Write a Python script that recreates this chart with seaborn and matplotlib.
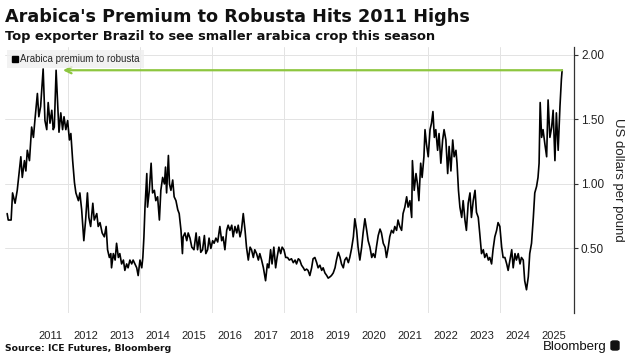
import pandas as pd
import seaborn as sns
import matplotlib.pyplot as plt
from matplotlib.lines import Line2D
from matplotlib.patches import FancyBboxPatch

# decimal year, arabica premium over robusta (US$/lb)
years = [
    2010.31, 2010.34, 2010.42, 2010.46, 2010.53, 2010.59, 2010.69, 2010.73, 2010.79, 2010.83,
    2010.87, 2010.93, 2010.99, 2011.04, 2011.08, 2011.15, 2011.19, 2011.24, 2011.31, 2011.36,
    2011.41, 2011.45, 2011.50, 2011.55, 2011.59, 2011.62, 2011.67, 2011.70, 2011.75, 2011.80,
    2011.85, 2011.89, 2011.94, 2011.99, 2012.04, 2012.08, 2012.13, 2012.18, 2012.22, 2012.29,
    2012.33, 2012.38, 2012.44, 2012.49, 2012.54, 2012.58, 2012.63, 2012.69, 2012.73, 2012.80,
    2012.84, 2012.89, 2012.95, 2013.01, 2013.06, 2013.10, 2013.15, 2013.19, 2013.21, 2013.26,
    2013.31, 2013.35, 2013.40, 2013.44, 2013.49, 2013.54, 2013.58, 2013.63, 2013.67, 2013.72,
    2013.77, 2013.81, 2013.86, 2013.91, 2013.95, 2014.00, 2014.05, 2014.08, 2014.11, 2014.14,
    2014.19, 2014.21, 2014.26, 2014.31, 2014.35, 2014.40, 2014.44, 2014.49, 2014.54, 2014.58,
    2014.63, 2014.68, 2014.71, 2014.74, 2014.79, 2014.82, 2014.86, 2014.91, 2014.95, 2015.00,
    2015.05, 2015.09, 2015.14, 2015.18, 2015.20, 2015.25, 2015.30, 2015.34, 2015.39, 2015.44,
    2015.50, 2015.56, 2015.60, 2015.65, 2015.69, 2015.74, 2015.79, 2015.83, 2015.88, 2015.92,
    2015.97, 2016.02, 2016.06, 2016.11, 2016.16, 2016.22, 2016.27, 2016.31, 2016.36, 2016.41,
    2016.45, 2016.50, 2016.55, 2016.59, 2016.64, 2016.69, 2016.73, 2016.78, 2016.82, 2016.87,
    2016.92, 2016.96, 2017.01, 2017.06, 2017.10, 2017.15, 2017.19, 2017.24, 2017.29, 2017.33,
    2017.38, 2017.43, 2017.49, 2017.54, 2017.58, 2017.63, 2017.67, 2017.72, 2017.77, 2017.81,
    2017.86, 2017.91, 2017.95, 2018.00, 2018.05, 2018.10, 2018.15, 2018.21, 2018.26, 2018.31,
    2018.35, 2018.40, 2018.44, 2018.49, 2018.54, 2018.58, 2018.63, 2018.67, 2018.72, 2018.77,
    2018.81, 2018.86, 2018.91, 2018.95, 2019.00, 2019.05, 2019.09, 2019.14, 2019.19, 2019.23,
    2019.28, 2019.32, 2019.37, 2019.42, 2019.46, 2019.51, 2019.56, 2019.60, 2019.65, 2019.69,
    2019.74, 2019.79, 2019.83, 2019.88, 2019.93, 2019.97, 2020.02, 2020.06, 2020.11, 2020.16,
    2020.20, 2020.25, 2020.30, 2020.34, 2020.39, 2020.44, 2020.48, 2020.53, 2020.57, 2020.62,
    2020.67, 2020.71, 2020.76, 2020.81, 2020.85, 2020.90, 2020.94, 2020.99, 2021.04, 2021.08,
    2021.13, 2021.17, 2021.22, 2021.27, 2021.31, 2021.36, 2021.41, 2021.45, 2021.50, 2021.55,
    2021.57, 2021.62, 2021.67, 2021.71, 2021.75, 2021.80, 2021.84, 2021.89, 2021.92, 2021.96,
    2022.01, 2022.06, 2022.10, 2022.14, 2022.18, 2022.22, 2022.27, 2022.31, 2022.36, 2022.41,
    2022.45, 2022.50, 2022.55, 2022.59, 2022.64, 2022.69, 2022.73, 2022.78, 2022.81, 2022.85,
    2022.89, 2022.94, 2022.98, 2023.03, 2023.07, 2023.12, 2023.17, 2023.21, 2023.26, 2023.31,
    2023.35, 2023.40, 2023.44, 2023.49, 2023.54, 2023.58, 2023.63, 2023.68, 2023.72, 2023.77,
    2023.81, 2023.86, 2023.91, 2023.95, 2024.00, 2024.05, 2024.09, 2024.14, 2024.19, 2024.23,
    2024.28, 2024.33, 2024.37, 2024.42, 2024.46, 2024.51, 2024.56, 2024.60, 2024.65, 2024.69,
    2024.74, 2024.79, 2024.83, 2024.88, 2024.93, 2024.97, 2025.02, 2025.06, 2025.09, 2025.12,
    2025.16, 2025.20, 2025.25, 2025.30, 2025.34, 2025.39, 2025.44, 2025.48, 2025.53, 2025.57,
    2025.62, 2025.67, 2025.71, 2025.73,
]
premium = [
    0.77, 0.72, 0.72, 0.93, 0.85, 0.95, 1.21, 1.05, 1.18, 1.10,
    1.26, 1.18, 1.44, 1.36, 1.49, 1.70, 1.52, 1.60, 1.89, 1.49,
    1.42, 1.63, 1.47, 1.57, 1.42, 1.44, 1.88, 1.70, 1.40, 1.55,
    1.42, 1.52, 1.42, 1.49, 1.34, 1.39, 1.18, 1.01, 0.93, 0.87,
    0.93, 0.80, 0.56, 0.72, 0.93, 0.74, 0.67, 0.85, 0.72, 0.77,
    0.67, 0.70, 0.62, 0.59, 0.67, 0.49, 0.43, 0.46, 0.35, 0.46,
    0.41, 0.54, 0.43, 0.46, 0.38, 0.41, 0.33, 0.38, 0.35, 0.41,
    0.38, 0.41, 0.38, 0.35, 0.29, 0.41, 0.35, 0.43, 0.59, 0.82,
    1.08, 0.82, 0.95, 1.16, 0.93, 0.95, 0.87, 0.90, 0.72, 0.95,
    1.05, 1.00, 1.13, 0.93, 1.22, 1.00, 0.95, 1.03, 0.90, 0.87,
    0.80, 0.77, 0.64, 0.46, 0.59, 0.62, 0.56, 0.62, 0.58, 0.51,
    0.49, 0.62, 0.49, 0.59, 0.47, 0.49, 0.60, 0.46, 0.49, 0.58,
    0.50, 0.56, 0.54, 0.58, 0.55, 0.67, 0.56, 0.59, 0.49, 0.64,
    0.68, 0.64, 0.68, 0.59, 0.67, 0.62, 0.68, 0.59, 0.64, 0.77,
    0.64, 0.51, 0.41, 0.51, 0.49, 0.43, 0.49, 0.46, 0.41, 0.46,
    0.41, 0.35, 0.25, 0.38, 0.35, 0.49, 0.38, 0.51, 0.35, 0.43,
    0.51, 0.46, 0.51, 0.49, 0.43, 0.43, 0.41, 0.42, 0.39, 0.41,
    0.38, 0.42, 0.41, 0.37, 0.35, 0.33, 0.34, 0.33, 0.29, 0.35,
    0.42, 0.43, 0.39, 0.35, 0.37, 0.33, 0.35, 0.31, 0.29, 0.27,
    0.28, 0.29, 0.31, 0.35, 0.41, 0.47, 0.43, 0.38, 0.35, 0.41,
    0.43, 0.39, 0.43, 0.50, 0.59, 0.73, 0.64, 0.51, 0.41, 0.51,
    0.62, 0.73, 0.64, 0.56, 0.51, 0.43, 0.46, 0.43, 0.51, 0.60,
    0.65, 0.62, 0.54, 0.51, 0.43, 0.51, 0.59, 0.64, 0.62, 0.67,
    0.64, 0.72, 0.67, 0.64, 0.77, 0.82, 0.90, 0.82, 0.87, 0.74,
    1.18, 0.95, 1.08, 1.00, 0.87, 1.16, 1.05, 1.21, 1.42, 1.31,
    1.21, 1.42, 1.47, 1.56, 1.36, 1.42, 1.26, 1.39, 1.16, 1.34,
    1.42, 1.34, 1.08, 1.29, 1.10, 1.34, 1.21, 1.26, 1.16, 0.95,
    0.82, 0.74, 0.87, 0.72, 0.64, 0.85, 0.93, 0.74, 0.87, 0.95,
    0.78, 0.74, 0.62, 0.46, 0.49, 0.43, 0.46, 0.41, 0.43, 0.38,
    0.49, 0.59, 0.64, 0.70, 0.67, 0.51, 0.43, 0.43, 0.38, 0.33,
    0.41, 0.49, 0.35, 0.46, 0.41, 0.46, 0.38, 0.43, 0.41, 0.25,
    0.18, 0.28, 0.46, 0.54, 0.74, 0.93, 0.98, 1.05, 1.16, 1.63,
    1.36, 1.42, 1.31, 1.21, 1.65, 1.36, 1.44, 1.57, 1.18, 1.55,
    1.26, 1.60, 1.81, 1.88,
]
year_labels = list(range(2011, 2026))
grid_years = list(range(2012, 2025, 2))
yticks = [0.5, 1.0, 1.5, 2.0]
arrow_end = 2011.86  # where the green arrow tip sits

df = pd.DataFrame({"year": years, "premium": premium})

sns.set_theme(style="white")
plt.rcParams["font.family"] = ["Liberation Sans", "DejaVu Sans"]

fig = plt.figure(figsize=(6.3, 3.57), dpi=100)
ax = fig.add_axes([5 / 630, 1 - 313 / 357, 569 / 630, 266 / 357])

sns.lineplot(data=df, x="year", y="premium", ax=ax, color="black",
             lw=1.2, estimator=None, legend=False)

ax.set_xlim(2010.25, 2026.06)
ax.set_ylim(0, 2.06)

# green arrow from today's level back to the 2011 high
last = premium[-1]
ax.annotate("", xy=(arrow_end, last), xytext=(years[-1], last),
            arrowprops=dict(arrowstyle="->", color="#8dc63f", lw=1.6,
                            shrinkA=0, shrinkB=0, mutation_scale=11))

# axes styling
for s in ["left", "top", "bottom"]:
    ax.spines[s].set_visible(False)
ax.spines["right"].set_color("#333333")
ax.spines["right"].set_linewidth(0.9)

ax.yaxis.tick_right()
ax.yaxis.set_label_position("right")
ax.set_yticks(yticks)
ax.set_yticklabels([f"{v:.2f}" for v in yticks])
ax.tick_params(axis="y", which="major", direction="out", length=3, width=0.8,
               color="#333333", labelsize=8.5, labelcolor="#222222", pad=2)
ax.set_ylabel("US dollars per pound", rotation=-90, labelpad=14,
              fontsize=9.5, color="#222222")

ax.set_xticks(grid_years)
ax.set_xticklabels([])
ax.set_xticks([y + 0.5 for y in year_labels], minor=True)
ax.set_xticklabels([str(y) for y in year_labels], minor=True)
ax.tick_params(axis="x", which="both", length=0, labelsize=8,
               labelcolor="#222222", pad=13)
ax.set_xlabel("")

ax.grid(True, axis="both", which="major", color="#e3e3e3", lw=0.7)

handle = Line2D([], [], color="black", marker="s", linestyle="none", markersize=4.5)
leg = ax.legend([handle], ["Arabica premium to robusta"], loc="upper left",
                bbox_to_anchor=(0.004, 0.99), borderaxespad=0, fontsize=7,
                frameon=True, fancybox=False, handlelength=0.6,
                handletextpad=0.3, borderpad=0.45)
leg.get_frame().set_facecolor("#efefef")
leg.get_frame().set_edgecolor("none")

# titles and footer
bold = ["DejaVu Sans"]
fig.text(5 / 630, 1 - 22 / 357, "Arabica's Premium to Robusta Hits 2011 Highs",
         fontsize=12.7, fontweight="bold", family=bold, color="#111111", va="baseline")
fig.text(5 / 630, 1 - 40 / 357, "Top exporter Brazil to see smaller arabica crop this season",
         fontsize=9.4, fontweight="bold", family=bold, color="#111111", va="baseline")
fig.text(5 / 630, 1 - 351 / 357, "Source: ICE Futures, Bloomberg",
         fontsize=6.7, fontweight="bold", family=bold, color="#111111", va="baseline")
fig.text(607 / 630, 1 - 350 / 357, "Bloomberg", fontsize=9.5, color="#111111",
         va="baseline", ha="right")
fig.add_artist(FancyBboxPatch((611 / 630, 1 - 350 / 357), 8 / 630, 9 / 357,
                              boxstyle="round,pad=0,rounding_size=0.004",
                              transform=fig.transFigure, color="#111111"))

fig.savefig("out.png", dpi=100)
